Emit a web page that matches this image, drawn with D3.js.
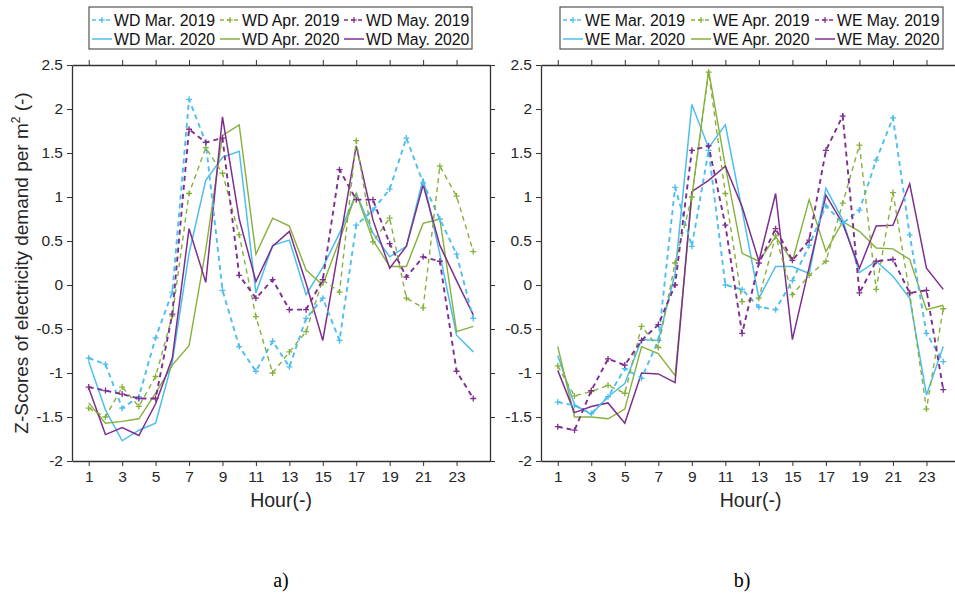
<!DOCTYPE html>
<html>
<head>
<meta charset="utf-8">
<script src="https://cdn.jsdelivr.net/npm/d3@7"></script>
<style>
  body { margin: 0; background: #fff; }
  svg { font-family: "Liberation Sans", Arial, sans-serif; }
</style>
</head>
<body>
<div id="chart"></div>
<script>
// hours on the x axis
var hours = d3.range(1, 25);
var xTicks = [1, 3, 5, 7, 9, 11, 13, 15, 17, 19, 21, 23];
var yTicks = [-2, -1.5, -1, -0.5, 0, 0.5, 1, 1.5, 2, 2.5];

// a) weekdays
var wdMar2019 = [-0.83,-0.90,-1.40,-1.27,-0.60,-0.08,2.11,1.62,-0.06,-0.70,-0.98,-0.64,-0.93,-0.38,-0.15,-0.63,0.68,0.85,1.09,1.67,1.16,0.75,0.35,-0.38];
var wdApr2019 = [-1.40,-1.50,-1.16,-1.38,-1.04,-0.35,1.04,1.56,1.27,0.57,-0.36,-1.00,-0.76,-0.53,0.06,-0.08,1.64,0.49,0.76,-0.15,-0.26,1.35,1.01,0.38];
var wdMay2019 = [-1.16,-1.20,-1.24,-1.29,-1.29,-0.33,1.77,1.62,1.67,0.11,-0.15,0.06,-0.28,-0.28,0.06,1.31,0.97,0.97,0.47,0.09,0.32,0.27,-0.98,-1.29];
var wdMar2020 = [-0.87,-1.42,-1.77,-1.65,-1.57,-0.87,0.36,1.19,1.45,1.52,-0.09,0.45,0.51,-0.11,0.20,0.59,1.04,0.59,0.32,0.44,1.21,0.35,-0.57,-0.76];
var wdApr2020 = [-1.34,-1.57,-1.55,-1.52,-1.23,-0.91,-0.69,0.40,1.70,1.82,0.35,0.76,0.67,0.17,0.00,0.51,1.04,0.51,0.21,0.21,0.70,0.75,-0.53,-0.47];
var wdMay2020 = [-1.17,-1.70,-1.62,-1.71,-1.35,-0.83,0.64,0.03,1.91,0.75,0.04,0.44,0.61,0.02,-0.63,0.47,1.58,0.74,0.19,0.44,1.14,0.45,0.05,-0.34];

// b) weekends
var weMar2019 = [-1.33,-1.37,-1.46,-1.27,-0.95,-1.06,-0.63,1.11,0.44,1.53,0.00,-0.05,-0.25,-0.28,0.05,0.45,0.90,0.70,0.85,1.42,1.90,0.57,-0.55,-0.87];
var weApr2019 = [-0.92,-1.26,-1.21,-1.14,-1.23,-0.47,-0.71,0.25,1.00,2.42,1.04,-0.19,-0.15,0.56,-0.11,0.11,0.27,0.93,1.59,-0.05,1.05,-0.10,-1.41,-0.27];
var weMay2019 = [-1.61,-1.65,-1.20,-0.84,-0.91,-0.63,-0.45,0.00,1.53,1.58,0.68,-0.55,0.25,0.64,0.28,0.51,1.53,1.92,-0.09,0.27,0.29,-0.09,-0.06,-1.19];
var weMar2020 = [-0.80,-1.36,-1.47,-1.27,-1.12,-0.62,-0.63,0.13,2.05,1.56,1.82,0.85,-0.15,0.21,0.21,0.13,1.10,0.74,0.14,0.27,0.10,-0.15,-1.25,-0.70];
var weApr2020 = [-0.70,-1.50,-1.50,-1.52,-1.41,-0.70,-0.78,-1.03,1.00,2.44,1.35,0.36,0.27,0.55,0.27,0.97,0.38,0.72,0.61,0.42,0.41,0.29,-0.28,-0.23];
var weMay2020 = [-0.97,-1.45,-1.38,-1.34,-1.57,-1.00,-1.01,-1.11,1.06,1.19,1.35,0.89,0.27,1.04,-0.62,0.20,1.02,0.70,0.19,0.67,0.68,1.15,0.19,-0.05];

var colors = { mar: "#4DBEEE", apr: "#86B03C", may: "#7E2F8E" };

function seriesFor(prefix, vals) {
    return [
        { name: prefix + " Mar. 2019", values: vals[0], color: colors.mar, dashed: true, w: 1.9 },
        { name: prefix + " Apr. 2019", values: vals[1], color: colors.apr, dashed: true, w: 1.4 },
        { name: prefix + " May. 2019", values: vals[2], color: colors.may, dashed: true, w: 1.9 },
        { name: prefix + " Mar. 2020", values: vals[3], color: colors.mar, dashed: false, w: 1.5 },
        { name: prefix + " Apr. 2020", values: vals[4], color: colors.apr, dashed: false, w: 1.4 },
        { name: prefix + " May. 2020", values: vals[5], color: colors.may, dashed: false, w: 1.5 }
    ];
}

var panels = [
    { series: seriesFor("WD", [wdMar2019, wdApr2019, wdMay2019, wdMar2020, wdApr2020, wdMay2020]),
      left: 72, right: 490, legendX: 89, caption: "a)", captionX: 281, yLabel: true },
    { series: seriesFor("WE", [weMar2019, weApr2019, weMay2019, weMar2020, weApr2020, weMay2020]),
      left: 541, right: 960, legendX: 560, caption: "b)", captionX: 742, yLabel: false }
];

var svg = d3.select("#chart")
    .append("svg")
    .attr("width", 955)
    .attr("height", 598);

var plotTop = 65, plotBottom = 461;
var y = d3.scaleLinear().domain([-2, 2.5]).range([plotBottom, plotTop]);

panels.forEach(function(p) {
    var x = d3.scaleLinear().domain([0, 25]).range([p.left, p.right]);
    var g = svg.append("g");

    // draw the series, solid 2020 first then dashed 2019 on top
    var line = d3.line()
        .x(function(d, i) { return x(hours[i]); })
        .y(function(d) { return y(d); });

    var order = [3, 4, 5, 0, 1, 2];
    order.forEach(function(k) {
        var s = p.series[k];
        g.append("path")
            .datum(s.values)
            .attr("fill", "none")
            .attr("stroke", s.color)
            .attr("stroke-width", s.w)
            .attr("stroke-dasharray", s.dashed ? "5,4" : null)
            .attr("d", line);
        if (s.dashed) {
            g.selectAll(null)
                .data(s.values)
                .enter()
                .append("path")
                .attr("transform", function(d, i) { return "translate(" + x(hours[i]) + "," + y(d) + ")"; })
                .attr("d", "M-3,0H3M0,-3V3")
                .attr("stroke", s.color)
                .attr("stroke-width", 1.3);
        }
    });

    // axes on all four sides, ticks pointing out
    var tickLabel = function(d) { return String(d); };
    g.append("g")
        .attr("transform", "translate(0," + plotBottom + ")")
        .call(d3.axisBottom(x).tickValues(xTicks).tickSize(5).tickSizeOuter(0).tickPadding(5));
    g.append("g")
        .attr("transform", "translate(0," + plotTop + ")")
        .call(d3.axisTop(x).tickValues(xTicks).tickSize(5).tickSizeOuter(0).tickFormat(""));
    g.append("g")
        .attr("transform", "translate(" + p.left + ",0)")
        .call(d3.axisLeft(y).tickValues(yTicks).tickSize(5).tickSizeOuter(0).tickPadding(4).tickFormat(tickLabel));
    g.append("g")
        .attr("transform", "translate(" + p.right + ",0)")
        .call(d3.axisRight(y).tickValues(yTicks).tickSize(5).tickSizeOuter(0).tickFormat(""));

    g.selectAll(".domain").attr("stroke", "#333").attr("stroke-width", 1.3);
    g.selectAll(".tick line").attr("stroke", "#333");
    g.selectAll(".tick text").attr("fill", "#262626").style("font-size", "15.5px");

    // x label
    g.append("text")
        .attr("x", (p.left + p.right) / 2)
        .attr("y", 507)
        .attr("text-anchor", "middle")
        .style("font-size", "19.5px")
        .attr("fill", "#262626")
        .text("Hour(-)");

    if (p.yLabel) {
        var yl = g.append("text")
            .attr("transform", "translate(28," + ((plotTop + plotBottom) / 2) + ") rotate(-90)")
            .attr("text-anchor", "middle")
            .style("font-size", "19px")
            .attr("fill", "#262626");
        yl.append("tspan").text("Z-Scores of electricity demand per m");
        yl.append("tspan").attr("dy", -8).style("font-size", "12px").text("2");
        yl.append("tspan").attr("dy", 8).text(" (-)");
    }

    // caption
    svg.append("text")
        .attr("x", p.captionX)
        .attr("y", 587)
        .attr("text-anchor", "middle")
        .style("font-family", "'Liberation Serif', 'Times New Roman', serif")
        .style("font-size", "20px")
        .text(p.caption);

    // legend box
    var lg = svg.append("g").attr("transform", "translate(" + p.legendX + ",7)");
    lg.append("rect")
        .attr("width", 383)
        .attr("height", 42)
        .attr("fill", "#fff")
        .attr("stroke", "#333")
        .attr("stroke-width", 1);
    var colX = [3, 131, 255];
    p.series.forEach(function(s, i) {
        var cx = colX[i % 3], cy = i < 3 ? 13 : 32;
        lg.append("line")
            .attr("x1", cx).attr("x2", cx + 20)
            .attr("y1", cy).attr("y2", cy)
            .attr("stroke", s.color)
            .attr("stroke-width", s.dashed ? 1.6 : 1.5)
            .attr("stroke-dasharray", s.dashed ? "4,3" : null);
        if (s.dashed) {
            lg.append("path")
                .attr("transform", "translate(" + (cx + 10) + "," + cy + ")")
                .attr("d", "M-3,0H3M0,-3V3")
                .attr("stroke", s.color)
                .attr("stroke-width", 1.2);
        }
        lg.append("text")
            .attr("x", cx + 22)
            .attr("y", cy + 6)
            .style("font-size", "15.8px")
            .attr("fill", "#111")
            .text(s.name);
    });
});
</script>
</body>
</html>
